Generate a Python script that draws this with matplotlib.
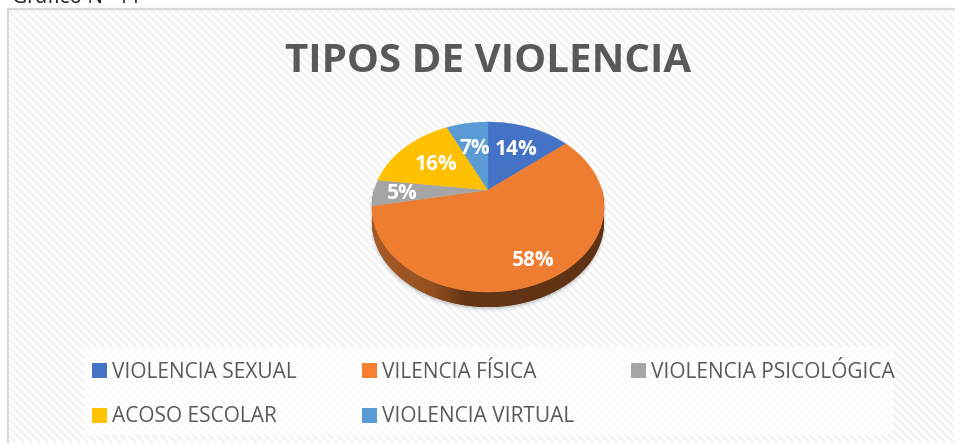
"""Tilted pie chart of violence types, drawn with a small perspective projection."""

import matplotlib
matplotlib.use("Agg")
import matplotlib.pyplot as plt
import numpy as np
from matplotlib.colors import LinearSegmentedColormap
from matplotlib.patches import Rectangle

TITLE = "TIPOS DE VIOLENCIA"
CAPTION = "Gráfico N° 11"
CATEGORIES = [
    "VIOLENCIA SEXUAL",
    "VILENCIA FÍSICA",
    "VIOLENCIA PSICOLÓGICA",
    "ACOSO ESCOLAR",
    "VIOLENCIA VIRTUAL",
]
VALUES = [14, 58, 5, 16, 7]
COLORS = ["#4472c4", "#ee7d31", "#a5a5a5", "#ffc000", "#5b9bd5"]
LEGEND_COLORS = ["#4472c4", "#fb7f30", "#a5a5a5", "#ffc400", "#5b9bd5"]

# pie geometry in pixels
CX, CY = 488, 190
RX, RY = 113.7, 81.6
TILT = 0.2
DEPTH = 15
LABEL_R = [0.64, 0.8, 0.75, 0.6, 0.6]
TEXT_GREY = "#595959"


def project(angle, r=1.0):
    """Map clockwise-from-top angle (rad) on the disc to image pixels."""
    u = r * np.sin(angle)
    v = r * np.cos(angle)
    den = 1 + TILT * v
    return CX + RX * u / den, CY - RY * v / den


def main() -> None:
    fig = plt.figure(figsize=(9.55, 4.43), dpi=100)
    ax = fig.add_axes([0, 0, 1, 1])
    ax.set_xlim(0, 955)
    ax.set_ylim(443, 0)
    ax.axis("off")
    plt.rcParams["font.family"] = "Open Sans"

    # Striped chart-area background.
    yy, xx = np.mgrid[0:443, 0:955]
    stripes = np.where((xx - yy) % 8 < 4, 1.0, 0.955)
    stripes[:9, :] = 1.0
    stripes[:, :8] = 1.0
    ax.imshow(stripes, cmap="gray", vmin=0, vmax=1, extent=(0, 955, 443, 0),
              aspect="auto", interpolation="bilinear", zorder=0)
    ax.plot([8, 8, 955], [443, 9, 9], color="#d9d9d9", lw=1.6, zorder=1)

    ax.text(12, 3, CAPTION, fontsize=15, color="#222222", va="baseline", ha="left", zorder=5)
    ax.text(488, 61, TITLE, fontsize=29, fontweight="bold", color=TEXT_GREY,
            ha="center", va="center", zorder=5)

    # Rim and soft shadow along the front edge.
    front = np.linspace(np.pi / 2 - 0.02, 3 * np.pi / 2 + 0.02, 300)
    x_f, y_f = project(front)
    for grow, alpha in [(3.0, 0.04), (2.0, 0.05), (1.0, 0.08)]:
        ax.fill(np.r_[x_f, x_f[::-1]], np.r_[y_f, y_f[::-1] + DEPTH + grow],
                color="#555555", alpha=alpha, lw=grow, zorder=2)
    rim = ax.fill(np.r_[x_f, x_f[::-1]], np.r_[y_f, y_f[::-1] + DEPTH], color="#5f3213", lw=0, zorder=3)[0]
    rim_cmap = LinearSegmentedColormap.from_list(
        "rim", [(0, "#a95c28"), (0.25, "#95501f"), (0.4, "#643515"), (1, "#5f3213")])
    grad = ax.imshow(np.linspace(0, 1, 256)[None, :], cmap=rim_cmap, vmin=0, vmax=1,
                     extent=(372, 604, 320, 190), aspect="auto", zorder=3)
    grad.set_clip_path(rim)
    ax.set_xlim(0, 955)
    ax.set_ylim(443, 0)

    # Slices.
    total = sum(VALUES)
    edges = np.cumsum([0] + VALUES) / total * 2 * np.pi
    for i, color in enumerate(COLORS):
        theta = np.linspace(edges[i], edges[i + 1], 200)
        x_s, y_s = project(theta)
        ax.fill(np.r_[CX, x_s], np.r_[CY, y_s], color=color, lw=0.3, zorder=4)
    for i, value in enumerate(VALUES):
        x_l, y_l = project((edges[i] + edges[i + 1]) / 2, LABEL_R[i])
        ax.text(x_l, y_l + 1.5, f"{value}%", color="white", fontsize=15, fontweight="bold",
                ha="center", va="center", zorder=6)

    # Legend panel, laid out by hand to keep the uneven columns.
    ax.add_patch(Rectangle((84, 347), 809, 88, facecolor="white", alpha=0.7, lw=0, zorder=2))
    col_x = [92, 362, 631]
    row_y = [370, 415]
    for i, name in enumerate(CATEGORIES):
        x0 = col_x[i % 3]
        y0 = row_y[i // 3]
        ax.add_patch(Rectangle((x0, y0 - 7.5), 15, 15, facecolor=LEGEND_COLORS[i], lw=0, zorder=4))
        ax.text(x0 + 20, y0 + 2, name, fontsize=15, color=TEXT_GREY, ha="left", va="center", zorder=5)

    fig.savefig("out.png", dpi=100)
    plt.close(fig)


if __name__ == "__main__":
    main()
